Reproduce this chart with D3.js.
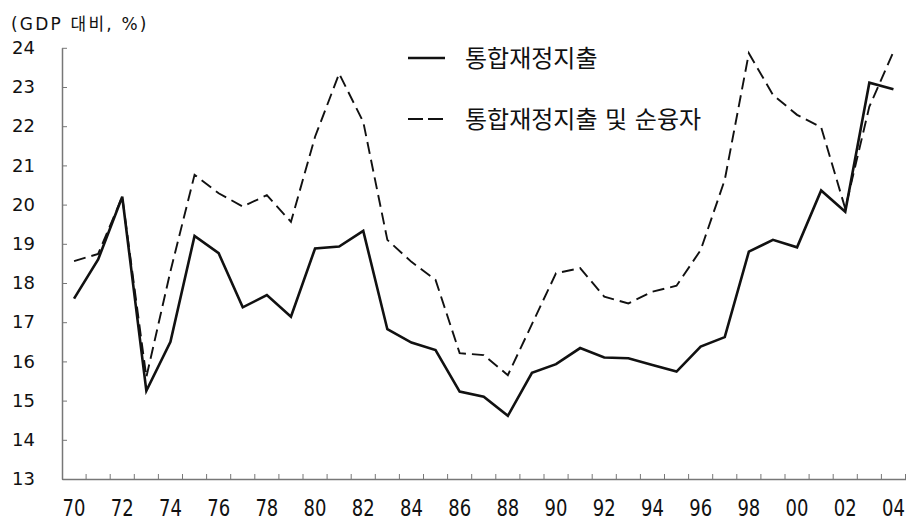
<!DOCTYPE html>
<html>
<head>
<meta charset="utf-8">
<script src="https://cdn.jsdelivr.net/npm/d3@7"></script>
<style>
  body { margin: 0; background: #fff; }
  svg text { font-family: "DejaVu Sans", "Noto Sans CJK KR", sans-serif; fill: #111; }
</style>
</head>
<body>
<div id="graph"></div>
<script>
var width = 907,
    height = 523

// years 1970-2004
var years = d3.range(1970, 2005)
// 통합재정지출 (GDP 대비 %)
var spending = [17.6, 18.6, 20.2, 15.25, 16.5, 19.2, 18.76, 17.38, 17.69, 17.14,
                18.88, 18.93, 19.33, 16.82, 16.48, 16.29, 15.23, 15.1, 14.61, 15.71,
                15.93, 16.34, 16.1, 16.08, 15.91, 15.74, 16.38, 16.62, 18.8, 19.1,
                18.91, 20.36, 19.82, 23.11, 22.94]
// 통합재정지출 및 순융자
var spendingLending = [18.56, 18.74, 20.2, 15.6, 18.3, 20.76, 20.29, 19.95, 20.24, 19.56,
                       21.73, 23.34, 22.11, 19.1, 18.54, 18.08, 16.21, 16.16, 15.65, 16.95,
                       18.25, 18.38, 17.65, 17.48, 17.78, 17.93, 18.84, 20.63, 23.86, 22.8,
                       22.29, 21.97, 19.9, 22.5, 23.9]
var yTicks = d3.range(13, 25)
var xLabelYears = years.filter(function(d){ return d % 2 === 0 })
var seriesNames = ['통합재정지출', '통합재정지출 및 순융자']

var svg = d3.select('#graph')
  .append('svg')
  .attr('width', width)
  .attr('height', height)

var x = d3.scaleBand()
    .domain(years)
    .range([62, 905.5])
    .padding(0)
var y = d3.scaleLinear()
    .domain([13, 24])
    .range([479, 47.8])

var cx = function(d){ return x(d) + x.bandwidth() / 2 }

// y axis, ticks pointing inward
var yAxis = svg.append('g')
    .attr('transform', 'translate(62,0)')
    .call(d3.axisLeft(y).tickValues(yTicks).tickSizeInner(-5).tickSizeOuter(0).tickPadding(27))
yAxis.select('.domain').attr('stroke', '#777').attr('stroke-width', 1.5)
yAxis.selectAll('.tick line').attr('stroke', '#777')
yAxis.selectAll('text').attr('font-size', 18).attr('fill', '#111').attr('font-family', null)

// x axis: labels under even years, small ticks at year boundaries
var xAxis = svg.append('g')
    .attr('transform', 'translate(0,479)')
    .call(d3.axisBottom(x).tickValues(xLabelYears).tickSize(0).tickPadding(0)
      .tickFormat(function(d){ return d3.format('02d')(d % 100) }))
xAxis.select('.domain').attr('stroke', '#777').attr('stroke-width', 1.5)
xAxis.selectAll('.tick text')
    .attr('font-size', 18).attr('fill', '#111').attr('font-family', null)
    .attr('y', 0).attr('dy', null)
    .attr('transform', 'translate(0,37) scale(1,1.25)')
xAxis.selectAll('.bticks')
    .data(years)
  .enter().append('line')
    .attr('x1', function(d){ return x(d) + x.bandwidth() })
    .attr('x2', function(d){ return x(d) + x.bandwidth() })
    .attr('y1', 0).attr('y2', -5)
    .attr('stroke', '#777')

// unit label
svg.append('text')
    .attr('x', 11).attr('y', 30)
    .attr('font-size', 17)
    .attr('letter-spacing', 2.2)
    .text('(GDP 대비, %)')

var line = function(vals){
  return d3.line()
    .x(function(d, i){ return cx(years[i]) })
    .y(function(d){ return y(d) })(vals)
}

svg.append('path')
    .attr('d', line(spendingLending))
    .attr('fill', 'none')
    .attr('stroke', '#111')
    .attr('stroke-width', 1.9)
    .attr('stroke-dasharray', '12,6')
svg.append('path')
    .attr('d', line(spending))
    .attr('fill', 'none')
    .attr('stroke', '#111')
    .attr('stroke-width', 2.6)
    .attr('stroke-linejoin', 'miter')

// legend
var legend = svg.append('g')
var legendRows = [{name: seriesNames[0], dash: null, w: 2.6, ly: 58},
                  {name: seriesNames[1], dash: '15,5', w: 1.9, ly: 119}]
legendRows.forEach(function(r){
  legend.append('line')
      .attr('x1', 408).attr('x2', 445)
      .attr('y1', r.ly).attr('y2', r.ly)
      .attr('stroke', '#111')
      .attr('stroke-width', r.w)
      .attr('stroke-dasharray', r.dash)
  legend.append('text')
      .attr('x', 465).attr('y', r.ly)
      .attr('dy', '0.36em')
      .attr('font-size', 24)
      .text(r.name)
})
</script>
</body>
</html>
